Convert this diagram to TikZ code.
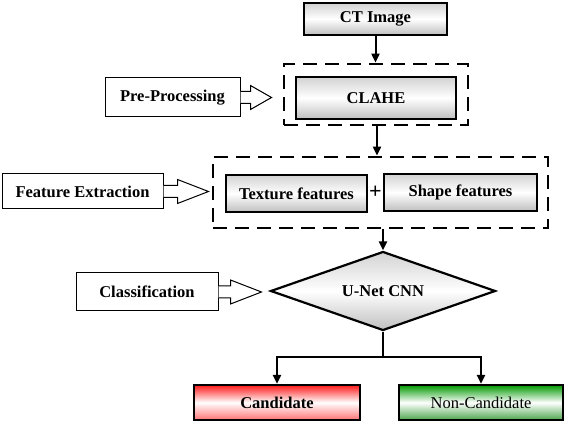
\documentclass[tikz,border=0pt]{standalone}
\usepackage{fontspec}
\setmainfont{Liberation Serif}
\usetikzlibrary{positioning, arrows.meta, shapes.geometric, calc}

% open arrow from a side label to its stage: start, shaft length, total length
\newcommand{\hollowarrow}[3]{%
  \draw[hollow] ($(#1)+(0,6)$) -- ++(#2,0) -- ++(0,6) -- ++({#3-#2},-12)
    -- ++({#2-#3},-12) -- ++(0,6) -- ++(-#2,0);}

\begin{document}
\begin{tikzpicture}[
  x=1pt, y=-1pt,
  font=\fontsize{16.5}{19}\selectfont\bfseries,
  block/.style={draw, line width=2.2pt, inner sep=0pt, minimum height=37pt,
    top color=gray!35, bottom color=gray!50, middle color=white},
  side/.style={draw, line width=1pt, fill=white, inner sep=0pt, minimum height=38pt},
  stage/.style={draw, line width=2.8pt, dash pattern=on 14pt off 8pt, inner sep=0pt},
  main/.style={-{Triangle[length=9pt, width=8pt]}, line width=2pt},
  hollow/.style={line width=1pt, fill=white, line join=miter},
  redbox/.style={draw, line width=2.2pt, inner sep=0pt, minimum height=35pt,
    top color=red!90, bottom color=red!55, middle color=white},
  greenbox/.style={draw, line width=2.2pt, inner sep=0pt, minimum height=35pt,
    top color=green!60!black, bottom color=green!50!black!70, middle color=white}
]
\useasboundingbox (0,0) rectangle (566,422);

% --- Input ---
\node[block, minimum width=143pt, minimum height=32pt] (ct) at (375.5,19) {CT Image};

% --- Pre-processing ---
\node[stage, minimum width=184pt, minimum height=61pt] (pp) at (376,94.5) {};
\node[block, minimum width=160pt, minimum height=42pt] (clahe) at (376,98) {CLAHE};
\node[side, minimum width=135pt, minimum height=39pt] (pre) at (172.5,97.5) {Pre-Processing};

% --- Feature extraction ---
\node[stage, minimum width=335pt, minimum height=71pt] (fe) at (380.5,192.5) {};
\node[block, minimum width=141pt] (tex) at (296.5,193.5) {Texture features};
\node[block, minimum width=153pt] (shp) at (460.5,192.5) {Shape features};
\node[font=\fontsize{22}{22}\selectfont\bfseries] (plus) at (375.5,192) {+};
\node[side, minimum width=161pt, minimum height=35pt] (feat) at (82.5,191.5) {Feature Extraction};

% --- Classification ---
\node[diamond, aspect=3, draw, line width=2.2pt, inner sep=0pt,
  minimum width=225pt, minimum height=79pt,
  top color=gray!35, bottom color=gray!50, middle color=white] (unet) at (383,291) {U-Net CNN};
\node[side, minimum width=142pt] (cls) at (147,292) {Classification};

% --- Output ---
\node[redbox, minimum width=166pt] (cand) at (277,402.5) {Candidate};
\node[greenbox, minimum width=164pt, font=\fontsize{16.5}{19}\selectfont] (non) at (481,402.5) {Non-Candidate};

% --- Connections ---
\draw[main] (ct.south) -- (ct.south |- pp.north);
\draw[main] ([xshift=1pt]pp.south) -- ([xshift=1pt]pp.south |- fe.north);
\draw[main] (unet.north |- fe.south) -- (unet.north);
\draw[line width=2pt] (unet.south) -- ++(0,25) coordinate (split);
\draw[main] (split) -| (cand.north);
\draw[main] (split) -| (non.north);

% --- Side labels ---
\hollowarrow{pre.east}{10}{31}
\hollowarrow{feat.east}{14}{45}
\hollowarrow{cls.east}{12}{43}

\end{tikzpicture}
\end{document}
